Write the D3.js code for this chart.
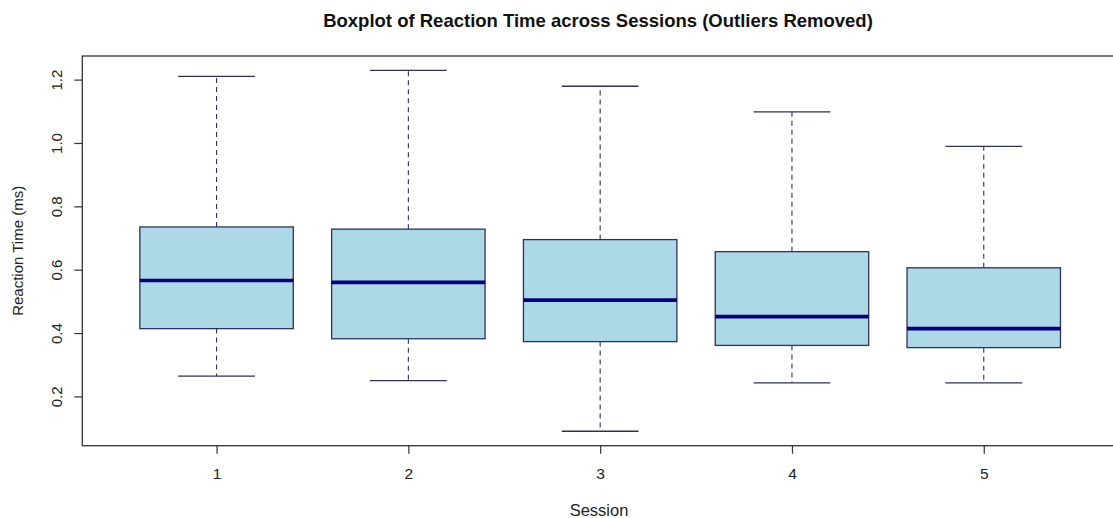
<!DOCTYPE html>
<html>
<head>
<meta charset="utf-8">
<script src="https://cdn.jsdelivr.net/npm/d3@7"></script>
<style>
  html, body { margin: 0; padding: 0; background: #fff; }
  svg { display: block; font-family: "Liberation Sans", Arial, sans-serif; }
</style>
</head>
<body>
<svg id="chart" width="1113" height="518"></svg>
<script>
// Five-number summaries per session (outliers already removed)
const sessions      = ["1", "2", "3", "4", "5"];
const lowerWhisker  = [0.264, 0.250, 0.090, 0.243, 0.243];
const q1            = [0.414, 0.382, 0.373, 0.361, 0.354];
const median        = [0.566, 0.560, 0.504, 0.452, 0.414];
const q3            = [0.735, 0.728, 0.695, 0.657, 0.606];
const upperWhisker  = [1.210, 1.229, 1.179, 1.098, 0.989];
const yTicks        = [0.2, 0.4, 0.6, 0.8, 1.0, 1.2];

const titleText = "Boxplot of Reaction Time across Sessions (Outliers Removed)";
const xTitle = "Session";
const yTitle = "Reaction Time (ms)";

const svg = d3.select("#chart");
const W = 1113, H = 518;
const plot = { left: 82.3, top: 56, bottom: 445.7 };

const boxes = sessions.map((s, i) => ({
  label: s, pos: i + 1,
  lo: lowerWhisker[i], q1: q1[i], med: median[i], q3: q3[i], hi: upperWhisker[i]
}));

// R-style limits: data range padded 4% on each side
const xPad = sessions.length * 0.04;
const xDom = [0.5 - xPad, sessions.length + 0.5 + xPad];
const unit = 191.8;
const x = d3.scaleLinear().domain(xDom).range([plot.left, plot.left + (xDom[1] - xDom[0]) * unit]);

const yMin = d3.min(lowerWhisker), yMax = d3.max(upperWhisker);
const yPad = (yMax - yMin) * 0.04;
const y = d3.scaleLinear().domain([yMin - yPad, yMax + yPad]).range([plot.bottom, plot.top]);

svg.append("rect").attr("width", W).attr("height", H).attr("fill", "#fff");

const boxHalf = 0.4;     // boxwex 0.8
const stapleHalf = 0.2;  // staple half the box width
const thin = "#2a3262";

const g = svg.append("g");
const bx = g.selectAll("g.box").data(boxes).join("g").attr("class", "box");

// dashed whiskers
bx.append("line")
  .attr("x1", d => x(d.pos)).attr("x2", d => x(d.pos))
  .attr("y1", d => y(d.q3)).attr("y2", d => y(d.hi))
  .attr("stroke", thin).attr("stroke-width", 1.1).attr("stroke-dasharray", "5,4");
bx.append("line")
  .attr("x1", d => x(d.pos)).attr("x2", d => x(d.pos))
  .attr("y1", d => y(d.q1)).attr("y2", d => y(d.lo))
  .attr("stroke", thin).attr("stroke-width", 1.1).attr("stroke-dasharray", "5,4");

// staples
bx.append("line")
  .attr("x1", d => x(d.pos - stapleHalf)).attr("x2", d => x(d.pos + stapleHalf))
  .attr("y1", d => y(d.hi)).attr("y2", d => y(d.hi))
  .attr("stroke", "#2d3150").attr("stroke-width", 1.3);
bx.append("line")
  .attr("x1", d => x(d.pos - stapleHalf)).attr("x2", d => x(d.pos + stapleHalf))
  .attr("y1", d => y(d.lo)).attr("y2", d => y(d.lo))
  .attr("stroke", "#2d3150").attr("stroke-width", 1.3);

// boxes
bx.append("rect")
  .attr("x", d => x(d.pos - boxHalf))
  .attr("width", d => x(d.pos + boxHalf) - x(d.pos - boxHalf))
  .attr("y", d => y(d.q3))
  .attr("height", d => y(d.q1) - y(d.q3))
  .attr("fill", "#add8e6").attr("stroke", thin).attr("stroke-width", 1.3);

// medians
bx.append("line")
  .attr("x1", d => x(d.pos - boxHalf)).attr("x2", d => x(d.pos + boxHalf))
  .attr("y1", d => y(d.med)).attr("y2", d => y(d.med))
  .attr("stroke", "#00007a").attr("stroke-width", 3.6);

// plot frame
const frameColor = "#333";
svg.append("rect")
  .attr("x", plot.left).attr("y", plot.top)
  .attr("width", x.range()[1] - plot.left).attr("height", plot.bottom - plot.top)
  .attr("fill", "none").attr("stroke", frameColor).attr("stroke-width", 1.3);

// y axis
const yAxis = svg.append("g").attr("transform", `translate(${plot.left},0)`)
  .call(d3.axisLeft(y).tickValues(yTicks).tickFormat(d3.format(".1f")).tickSize(8).tickPadding(0));
yAxis.select(".domain").remove();
yAxis.selectAll(".tick line").attr("stroke", frameColor).attr("stroke-width", 1.2);
yAxis.selectAll(".tick text").remove();
yAxis.selectAll(".tick").append("text")
  .attr("transform", "translate(-26,0) rotate(-90)")
  .attr("text-anchor", "middle").attr("dy", "0.35em")
  .attr("fill", "#222").attr("font-size", 15)
  .text(d => d3.format(".1f")(d));

// x axis
const xAxis = svg.append("g").attr("transform", `translate(0,${plot.bottom})`)
  .call(d3.axisBottom(x).tickValues(boxes.map(d => d.pos)).tickFormat((d, i) => sessions[i]).tickSize(8).tickPadding(0));
xAxis.select(".domain").remove();
xAxis.selectAll(".tick line").attr("stroke", frameColor).attr("stroke-width", 1.2);
xAxis.selectAll(".tick text")
  .attr("y", 28).attr("dy", "0.35em")
  .attr("fill", "#222").attr("font-size", 15.5).attr("font-family", "Liberation Sans, Arial, sans-serif");

// titles
svg.append("text")
  .attr("x", 598).attr("y", 21).attr("dy", "0.35em")
  .attr("text-anchor", "middle").attr("font-weight", "bold").attr("font-size", 18.5)
  .attr("fill", "#111").text(titleText);

svg.append("text")
  .attr("x", 599).attr("y", 510).attr("dy", "0.35em")
  .attr("text-anchor", "middle").attr("font-size", 16.5).attr("fill", "#222")
  .text(xTitle);

svg.append("text")
  .attr("transform", `translate(18,${(plot.top + plot.bottom) / 2}) rotate(-90)`)
  .attr("text-anchor", "middle").attr("dy", "0.35em")
  .attr("font-size", 15).attr("fill", "#222")
  .text(yTitle);
</script>
</body>
</html>
